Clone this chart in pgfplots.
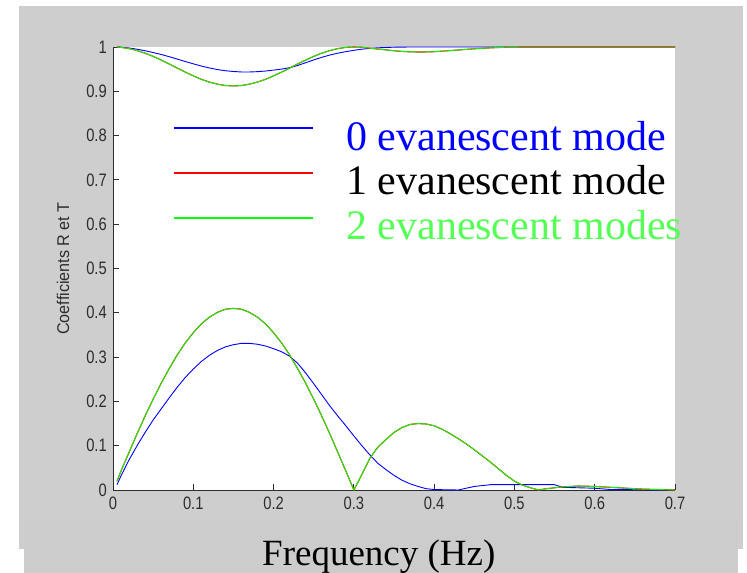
\documentclass[border=0pt]{standalone}
\usepackage{pgfplots}
\usepackage{pgfplotstable}
\pgfplotsset{compat=1.18}
\usepackage{fontspec}
\setmainfont{Liberation Serif}
\newfontfamily\tickfont[FakeStretch=0.82]{Liberation Sans}
\newfontfamily\labfont[FakeStretch=0.95]{Liberation Sans}
\definecolor{figgray}{RGB}{206,206,206}
\definecolor{boxgray}{RGB}{204,204,204}
\definecolor{mblue}{RGB}{0,0,255}
\definecolor{mred}{RGB}{255,0,0}
\definecolor{mgreen}{RGB}{0,255,0}
\definecolor{tgreen}{RGB}{85,255,85}
\definecolor{axgray}{RGB}{45,45,45}

\pgfplotstableread{
f R T
0.005 0.020 0.9998
0.01 0.043 0.9991
0.02 0.085 0.9964
0.03 0.127 0.9919
0.04 0.167 0.9860
0.05 0.205 0.9788
0.06 0.241 0.9705
0.07 0.274 0.9617
0.08 0.305 0.9524
0.09 0.332 0.9433
0.10 0.355 0.9349
0.11 0.375 0.9270
0.12 0.390 0.9208
0.13 0.401 0.9161
0.14 0.408 0.9130
0.15 0.410 0.9121
0.16 0.408 0.9130
0.17 0.401 0.9161
0.18 0.390 0.9208
0.19 0.375 0.9270
0.20 0.355 0.9349
0.21 0.332 0.9433
0.22 0.305 0.9524
0.23 0.274 0.9617
0.24 0.241 0.9705
0.25 0.205 0.9788
0.26 0.167 0.9860
0.27 0.127 0.9919
0.28 0.085 0.9964
0.29 0.043 0.9991
0.30 0.000 1.0000
0.31 0.035 0.9994
0.32 0.072 0.9974
0.33 0.097 0.9953
0.34 0.114 0.9935
0.35 0.130 0.9915
0.36 0.141 0.9900
0.37 0.148 0.9890
0.38 0.150 0.9887
0.39 0.149 0.9888
0.40 0.145 0.9894
0.41 0.137 0.9906
0.42 0.127 0.9919
0.43 0.116 0.9932
0.44 0.104 0.9946
0.45 0.091 0.9959
0.46 0.077 0.9970
0.47 0.063 0.9980
0.48 0.048 0.9988
0.49 0.033 0.9995
0.50 0.020 0.9998
0.51 0.011 0.9999
0.52 0.005 1.0000
0.53 0.000 1.0000
0.54 0.003 1.0000
0.56 0.007 1.0000
0.58 0.009 1.0000
0.60 0.008 1.0000
0.62 0.006 1.0000
0.64 0.004 1.0000
0.66 0.002 1.0000
0.68 0.001 1.0000
0.70 0.000 1.0000
}\greentab

\pgfplotstableread{
f R T
0.005 0.012 0.9999
0.01 0.032 0.9995
0.02 0.068 0.9977
0.03 0.100 0.9950
0.04 0.130 0.9915
0.05 0.158 0.9874
0.06 0.183 0.9831
0.07 0.208 0.9781
0.08 0.232 0.9727
0.09 0.254 0.9672
0.10 0.273 0.9620
0.11 0.290 0.9570
0.12 0.304 0.9527
0.13 0.315 0.9491
0.14 0.323 0.9464
0.15 0.328 0.9447
0.16 0.331 0.9436
0.17 0.331 0.9436
0.18 0.329 0.9443
0.19 0.325 0.9457
0.20 0.319 0.9478
0.21 0.312 0.9501
0.22 0.302 0.9533
0.23 0.286 0.9582
0.24 0.264 0.9645
0.25 0.240 0.9708
0.26 0.215 0.9766
0.27 0.190 0.9818
0.28 0.167 0.9860
0.29 0.145 0.9894
0.30 0.122 0.9925
0.31 0.100 0.9950
0.32 0.079 0.9969
0.33 0.060 0.9982
0.34 0.046 0.9989
0.35 0.033 0.9995
0.36 0.022 0.9998
0.37 0.014 0.9999
0.38 0.008 1.0000
0.39 0.003 1.0000
0.40 0.001 1.0000
0.43 0.000 1.0000
0.45 0.008 1.0000
0.47 0.012 0.9999
0.55 0.012 0.9999
0.56 0.006 1.0000
0.60 0.004 1.0000
0.62 0.001 1.0000
0.70 0.000 1.0000
}\bluetab

\begin{document}
\begin{tikzpicture}[x=1bp,y=1bp]
\useasboundingbox (0,0) rectangle (747,573);
\fill[white] (0,0) rectangle (747,573);
\fill[figgray] (19,24) rectangle (743,567);
\begin{axis}[
  at={(113bp,83bp)}, anchor=south west,
  scale only axis, width=562bp, height=443bp,
  xmin=0, xmax=0.7, ymin=0, ymax=1,
  clip=false,
  axis background/.style={fill=white},
  axis x line*=bottom, axis y line*=left,
  axis line style={axgray, line width=0.9bp, -},
  tick align=inside,
  major tick length=6bp,
  tick style={axgray, line width=0.8bp},
  xtick={0,0.1,0.2,0.3,0.4,0.5,0.6,0.7},
  ytick={0,0.1,0.2,0.3,0.4,0.5,0.6,0.7,0.8,0.9,1},
  /pgf/number format/assume math mode=true,
  ticklabel style={font=\tickfont\fontsize{18bp}{18bp}\selectfont, text=axgray, inner sep=0pt},
  xticklabel style={anchor=north, yshift=-7bp},
  yticklabel style={anchor=east, xshift=-6bp},
  ylabel={Coefficients R et T},
  ylabel style={at={(axis description cs:-0.089,0.5)}, anchor=center, rotate=0,
    font=\labfont\fontsize{17bp}{17bp}\selectfont, text=axgray, inner sep=0pt},
]
\addplot[mblue, line width=0.9bp] table[x=f,y=R]{\bluetab};
\addplot[mblue, line width=0.9bp] table[x=f,y=T]{\bluetab};
\addplot[mred, line width=1.1bp] table[x=f,y=R]{\greentab};
\addplot[mred, line width=1.1bp] table[x=f,y=T]{\greentab};
\addplot[mgreen, line width=0.9bp] table[x=f,y=R]{\greentab};
\addplot[mgreen, line width=0.9bp] table[x=f,y=T]{\greentab};
\end{axis}
% legend
\draw[mblue, line width=2bp] (174.3,444.7) -- (313.2,444.7);
\draw[mred, line width=2bp] (174.3,400.3) -- (313.2,400.3);
\draw[mgreen, line width=2bp] (174.3,355.3) -- (313.2,355.3);
\node[anchor=base west, inner sep=0pt, text=mblue, font=\fontsize{42bp}{48bp}\selectfont] at (346,422.3) {0 evanescent mode};
\node[anchor=base west, inner sep=0pt, text=black, font=\fontsize{42bp}{48bp}\selectfont] at (346,378) {1 evanescent mode};
\node[anchor=base west, inner sep=0pt, text=tgreen, font=\fontsize{42bp}{48bp}\selectfont] at (346,333) {2 evanescent modes};
% x label box
\fill[boxgray] (24,0) rectangle (738,53);
\node[anchor=base west, inner sep=0pt, font=\fontsize{37bp}{42bp}\selectfont] at (262,7) {Frequency (Hz)};
\end{tikzpicture}
\end{document}
